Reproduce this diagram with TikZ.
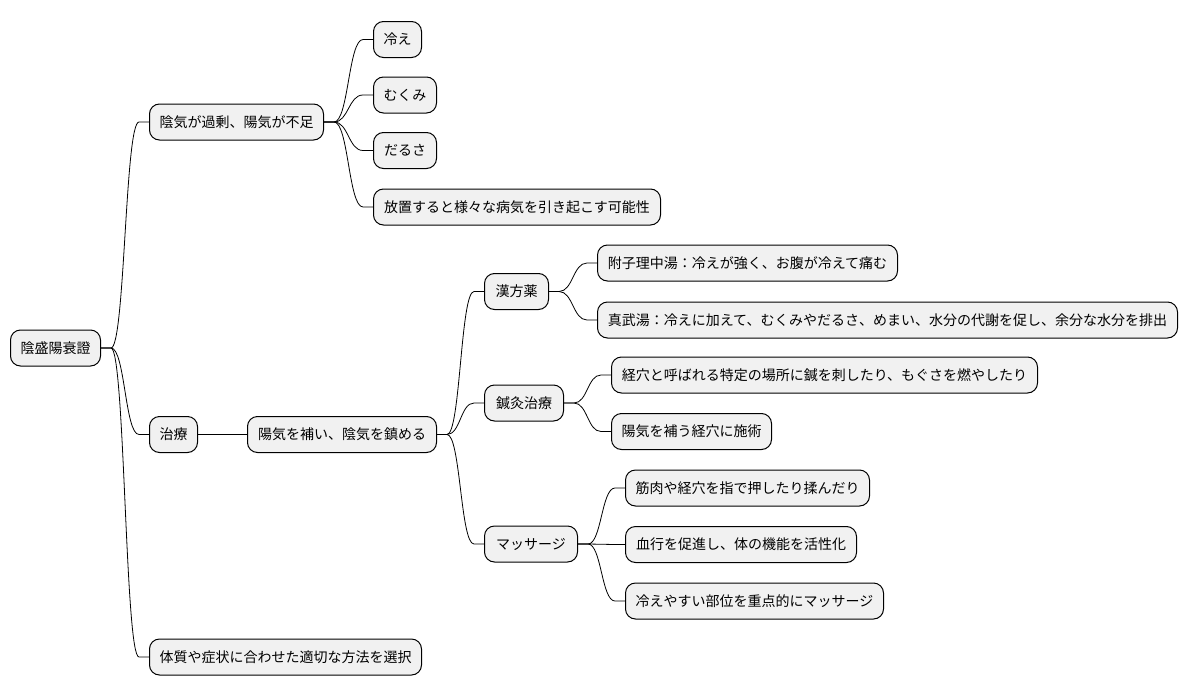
\documentclass[tikz,border=0pt]{standalone}
\usepackage{fontspec}
\newfontfamily\cjk{Noto Sans CJK JP}
\usetikzlibrary{calc}
\definecolor{nodefill}{HTML}{F1F1F1}
\tikzset{
  mm/.style={draw=black, fill=nodefill, rounded corners=10pt, line width=1pt,
    minimum height=36pt, inner sep=0pt, anchor=west, align=center,
    font=\cjk\fontsize{14}{16}\selectfont},
  link/.style={draw=black, line width=0.8pt}
}
\newcommand\mmconn[2]{%
  \draw[link] let \p1=(#1.east), \p2=(#2.west) in
    (\p1) -- (\x1+10pt,\y1) .. controls (\x1/2+\x2/2,\y1) and (\x1/2+\x2/2,\y2) .. (\x2-10pt,\y2) -- (\p2);}
\begin{document}
\begin{tikzpicture}[x=1pt,y=-1pt]
\path[fill=white] (0,0) rectangle (1188,696);
\useasboundingbox (0,0) rectangle (1188,696);
% root
\node[mm, minimum width=90pt] (root) at (10,348) {陰盛陽衰證};
% level 1
\node[mm, minimum width=174pt] (a) at (149,122) {陰気が過剰、陽気が不足};
\node[mm, minimum width=48pt] (b) at (149,434.5) {治療};
\node[mm, minimum width=272pt] (c) at (149,657) {体質や症状に合わせた適切な方法を選択};
% children of a
\node[mm, minimum width=48pt] (a1) at (373,39.5) {冷え};
\node[mm, minimum width=63pt] (a2) at (373,95) {むくみ};
\node[mm, minimum width=63pt] (a3) at (373,150.5) {だるさ};
\node[mm, minimum width=287pt] (a4) at (373,207) {放置すると様々な病気を引き起こす可能性};
% treatment
\node[mm, minimum width=189pt] (b1) at (247,434.5) {陽気を補い、陰気を鎮める};
\node[mm, minimum width=64pt] (k) at (484,291.5) {漢方薬};
\node[mm, minimum width=79pt] (s) at (484,403) {鍼灸治療};
\node[mm, minimum width=93pt] (m) at (484,544) {マッサージ};
\node[mm, minimum width=300pt] (k1) at (597,263) {附子理中湯：冷えが強く、お腹が冷えて痛む};
\node[mm, minimum width=580pt] (k2) at (597,320) {真武湯：冷えに加えて、むくみやだるさ、めまい、水分の代謝を促し、余分な水分を排出};
\node[mm, minimum width=426pt] (s1) at (611,375) {経穴と呼ばれる特定の場所に鍼を刺したり、もぐさを燃やしたり};
\node[mm, minimum width=160pt] (s2) at (611,431.5) {陽気を補う経穴に施術};
\node[mm, minimum width=244pt] (m1) at (625,488) {筋肉や経穴を指で押したり揉んだり};
\node[mm, minimum width=231pt] (m2) at (625,544.5) {血行を促進し、体の機能を活性化};
\node[mm, minimum width=258pt] (m3) at (625,601) {冷えやすい部位を重点的にマッサージ};
% connectors
\mmconn{root}{a}
\mmconn{root}{b}
\mmconn{root}{c}
\mmconn{a}{a1}
\mmconn{a}{a2}
\mmconn{a}{a3}
\mmconn{a}{a4}
\mmconn{b}{b1}
\mmconn{b1}{k}
\mmconn{b1}{s}
\mmconn{b1}{m}
\mmconn{k}{k1}
\mmconn{k}{k2}
\mmconn{s}{s1}
\mmconn{s}{s2}
\mmconn{m}{m1}
\mmconn{m}{m2}
\mmconn{m}{m3}
\end{tikzpicture}
\end{document}
